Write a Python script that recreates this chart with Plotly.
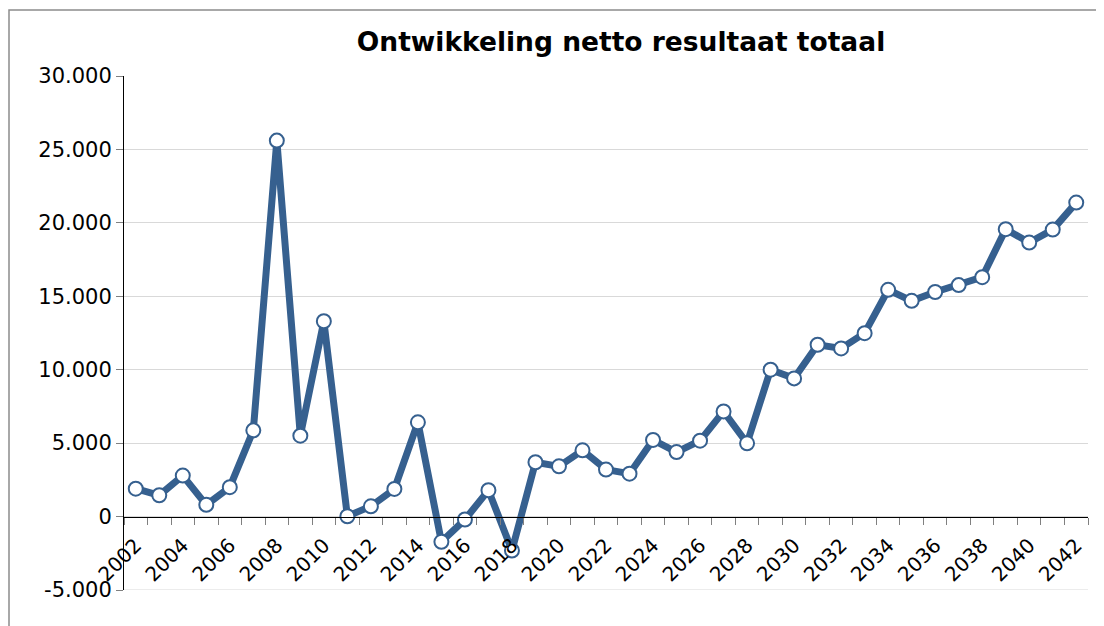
import plotly.graph_objects as go

# Netto resultaat per jaar
YEARS = list(range(2002, 2043))
RESULTAAT = [
    1900, 1450, 2790, 800, 2000, 5870, 25600, 5510, 13300, 20,
    700, 1880, 6420, -1720, -200, 1790, -2310, 3700, 3420, 4510,
    3200, 2920, 5220, 4390, 5170, 7160, 4990, 10000, 9410, 11700,
    11450, 12490, 15440, 14690, 15290, 15760, 16300, 19570, 18660, 19540,
    21380,
]

Y_TICKS = [-5000, 0, 5000, 10000, 15000, 20000, 25000, 30000]
Y_TICK_LABELS = ['-5.000', '0', '5.000', '10.000', '15.000', '20.000', '25.000', '30.000']
X_TICKS = list(range(2002, 2043, 2))

TITLE = 'Ontwikkeling netto resultaat totaal'
LINE_COLOR = '#36608f'
FONT = 'DejaVu Sans, Verdana, sans-serif'

# the page body adds an 8px margin, so the figure is drawn 8px in and down
W, H = 1104, 626
M_L, M_R, M_T, M_B = 116, 24, 68, 44


def get_line_plot():
    fig = go.Figure()

    fig.add_trace(
        go.Scatter(
            x = YEARS,
            y = RESULTAAT,
            mode = 'lines+markers',
            line = {'color': LINE_COLOR, 'width': 7},
            marker = {
                'size': 14,
                'color': 'white',
                'line': {'color': LINE_COLOR, 'width': 2},
            },
            hoverinfo = 'x+y',
        )
    )

    y_min, y_max = Y_TICKS[0], Y_TICKS[-1]

    # the x axis crosses the y axis at 0, like the Excel original
    fig.update_xaxes(
        range = [YEARS[0] - 0.5, YEARS[-1] + 0.5],
        anchor = 'free',
        position = (0 - y_min) / (y_max - y_min),
        automargin = False,
        showline = True,
        linecolor = 'black',
        linewidth = 1,
        showgrid = False,
        zeroline = False,
        tickmode = 'array',
        tickvals = X_TICKS,
        ticktext = [str(v) for v in X_TICKS],
        ticks = '',
        tickangle = -45,
        ticklabelstandoff = 8,
        tickfont = {'family': FONT, 'size': 20, 'color': 'black'},
        minor = {
            'tickmode': 'array',
            'tickvals': [y - 0.5 for y in YEARS] + [YEARS[-1] + 0.5],
            'ticks': 'outside',
            'ticklen': 7,
            'tickcolor': '#808080',
            'tickwidth': 1,
            'showgrid': False,
        },
    )

    fig.update_yaxes(
        range = [y_min, y_max],
        automargin = False,
        showline = True,
        linecolor = 'black',
        linewidth = 1,
        showgrid = True,
        gridcolor = '#d9d9d9',
        gridwidth = 1,
        zeroline = False,
        tickmode = 'array',
        tickvals = Y_TICKS,
        ticktext = Y_TICK_LABELS,
        ticks = 'outside',
        ticklen = 7,
        tickcolor = '#808080',
        ticklabelstandoff = 0,
        tickfont = {'family': FONT, 'size': 21, 'color': 'black'},
    )

    fig.update_layout(
        width = W,
        height = H,
        showlegend = False,
        plot_bgcolor = 'white',
        paper_bgcolor = 'white',
        margin = {'l': M_L, 'r': M_R, 't': M_T, 'b': M_B, 'pad': 0, 'autoexpand': False},
        title = {
            'text': f'<b>{TITLE}</b>',
            'x': 613 / W,
            'xanchor': 'center',
            'xref': 'container',
            'y': 1 - 34 / H,
            'yanchor': 'middle',
            'font': {'family': FONT, 'size': 26.5, 'color': 'black'},
        },
        shapes = [
            # outer chart border, running off the right and bottom of the page
            {
                'type': 'rect',
                'xref': 'paper',
                'yref': 'paper',
                'x0': (1 - M_L) / (W - M_L - M_R),
                'x1': 1.2,
                'y0': -0.2,
                'y1': 1 + (M_T - 2) / (H - M_T - M_B),
                'line': {'color': '#8c8c8c', 'width': 1.5},
                'layer': 'below',
            },
            # gridline along the bottom of the value range
            {
                'type': 'line',
                'xref': 'paper',
                'yref': 'y',
                'x0': 0,
                'x1': 1,
                'y0': y_min,
                'y1': y_min,
                'line': {'color': '#d9d9d9', 'width': 1},
                'layer': 'below',
            },
        ],
    )

    return fig


if __name__ == '__main__':
    fig = get_line_plot()
    fig.write_html('out.html')
